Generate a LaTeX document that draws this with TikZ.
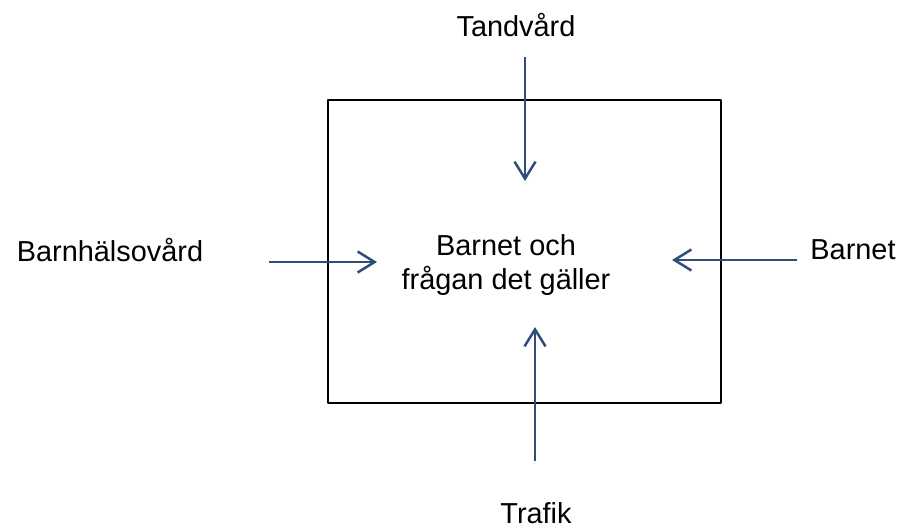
\documentclass[tikz,border=0pt]{standalone}
\usepackage{fontspec}
\setmainfont{Liberation Sans}
\usetikzlibrary{arrows.meta}
\definecolor{arrowblue}{RGB}{47,76,122}
\tikzset{
  lbl/.style={draw=none,font=\fontsize{29}{34}\selectfont,inner sep=0pt},
  feed/.style={arrowblue,line width=2.5bp,-{Straight Barb[length=17bp,width=21bp,line width=2.5bp]}},
}
\begin{document}
\begin{tikzpicture}[x=1bp,y=-1bp,line join=bevel]
\useasboundingbox (0bp,0bp) rectangle (903bp,-530bp);
%%
\draw [black,line width=2.5bp] (328,100) rectangle (721,403);
  \node (node_center) at (506,265) [lbl,align=center] {Barnet och\\frågan det gäller};
  \node (node_top) at (516,25) [lbl] {Tandvård};
  \node (node_left) at (110,250) [lbl] {Barnhälsovård};
  \node (node_right) at (853,250) [lbl] {Barnet};
  \node (node_bottom) at (536,513) [lbl] {Trafik};
  \coordinate (end_top) at (525,181);
  \coordinate (end_left) at (377,262);
  \coordinate (end_right) at (672,260);
  \coordinate (end_bottom) at (535,327);
  \draw [feed] (525,57) -- (end_top);
  \draw [feed] (269,262) -- (end_left);
  \draw [feed] (797,260) -- (end_right);
  \draw [feed] (535,461) -- (end_bottom);
%
\end{tikzpicture}
\end{document}
